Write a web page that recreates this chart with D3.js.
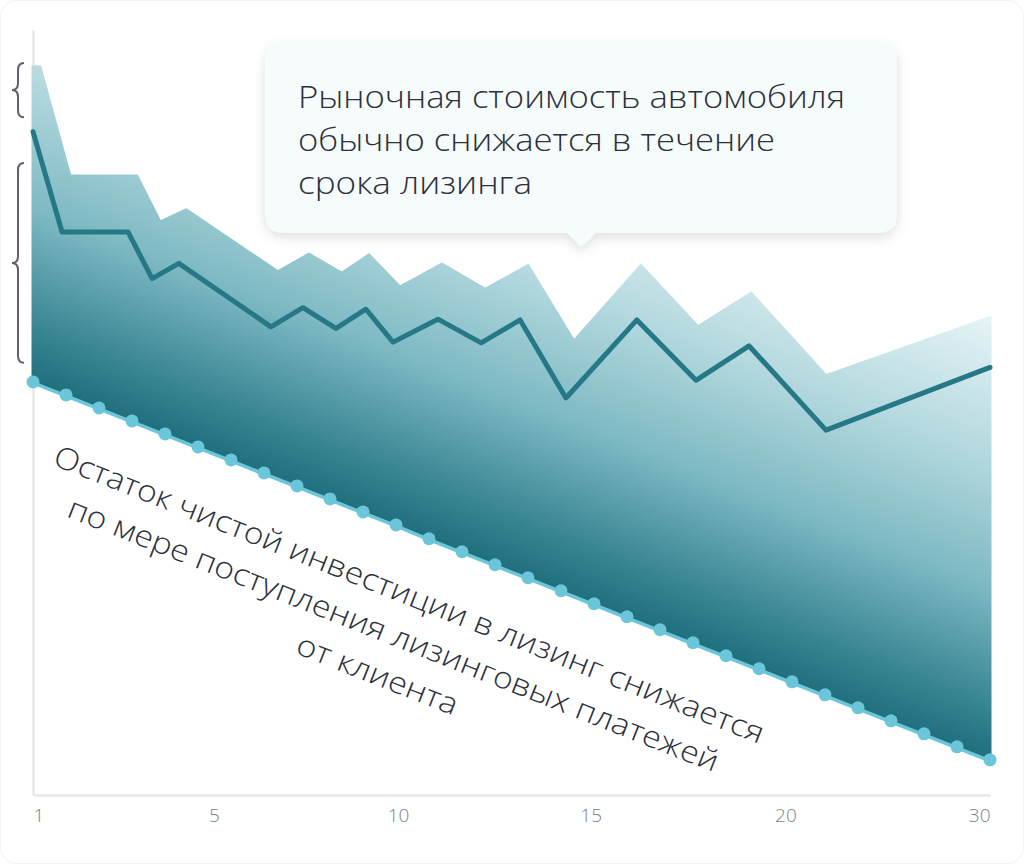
<!DOCTYPE html>
<html>
<head>
<meta charset="utf-8">
<script src="https://cdn.jsdelivr.net/npm/d3@7"></script>
<style>
    body { margin: 0; background: #fff; }
    svg { display: block; font-family: 'Open Sans', 'Noto Sans', sans-serif; }
</style>
</head>
<body>
<div id="chart"></div>
<script>
// periods of the lease (dots along the bottom edge)
const periods = [ 1, 2, 3, 4, 5, 6, 7, 8, 9, 10, 11, 12, 13, 14, 15,
    16, 17, 18, 19, 20, 21, 22, 23, 24, 25, 26, 27, 28, 29, 30 ];

// remaining net investment in the lease
const netInvestment = [ 54.0, 52.3, 50.6, 48.9, 47.2, 45.5, 43.8, 42.1, 40.4, 38.7,
    37.0, 35.3, 33.5, 31.8, 30.1, 28.4, 26.7, 25.0, 23.3, 21.6,
    19.9, 18.2, 16.5, 14.8, 13.1, 11.4, 9.7, 8.0, 6.3, 4.6 ];

// market value of the car (dark line)
const marketX = [ 1, 1.88, 3.88, 4.61, 5.42, 8.21, 9.18, 10.18, 11.09, 11.91,
    13.27, 14.58, 15.76, 17.15, 19.3, 21.09, 22.7, 25.03, 30 ];
const marketValue = [ 86.7, 73.6, 73.6, 67.5, 69.5, 61.2, 63.7, 61.0, 63.5, 59.2,
    62.2, 59.1, 62.1, 51.9, 62.1, 54.2, 58.7, 47.7, 55.9 ];

// upper edge of the shaded band
const upperX = [ 1, 1.21, 2.12, 4.15, 4.85, 5.64, 8.42, 9.36, 10.36, 11.18,
    12.12, 13.39, 14.7, 16.0, 17.39, 19.42, 21.15, 22.76, 25.03, 30 ];
const upperValue = [ 95.2, 95.2, 80.9, 80.9, 74.9, 76.5, 68.4, 70.7, 68.2, 70.6,
    66.4, 69.4, 66.1, 69.2, 59.3, 69.2, 61.2, 65.6, 54.8, 62.4 ];

// x axis labels and where they sit (in periods)
const tickLabels = [ '1', '5', '10', '15', '20', '30' ];
const tickAt = [ 1, 6.48, 12.06, 17.9, 23.8, 30 ];

// braces on the left (value ranges)
const braceFrom = [ 95.7, 82.6 ];
const braceTo = [ 88.6, 56.5 ];

const calloutLines = [ 'Рыночная стоимость автомобиля', 'обычно снижается в течение', 'срока лизинга' ];
const diagLines = [ 'Остаток чистой инвестиции в лизинг снижается', 'по мере поступления лизинговых платежей', 'от клиента' ];

const W = 1024, H = 864;

const svg = d3.select( '#chart' ).append( 'svg' ).attr( 'width', W ).attr( 'height', H );

svg.append( 'rect' )
    .attr( 'x', 0.5 ).attr( 'y', 0.5 ).attr( 'width', W - 1 ).attr( 'height', H - 1 )
    .attr( 'rx', 16 ).attr( 'fill', '#fff' ).attr( 'stroke', '#f3f3f3' );

const x = d3.scaleLinear().domain( [ 1, 30 ] ).range( [ 33, 990 ] ),
    y = d3.scaleLinear().domain( [ 0, 100 ] ).range( [ 795, 30 ] );

// gradient runs perpendicular to the falling bottom edge
const bx0 = x( 1 ), by0 = y( netInvestment[ 0 ] ),
    bx1 = x( 30 ), by1 = y( netInvestment[ netInvestment.length - 1 ] );
const ang = Math.atan2( by1 - by0, bx1 - bx0 );
const mx = ( bx0 + bx1 ) / 2, my = ( by0 + by1 ) / 2, gl = 420;

const defs = svg.append( 'defs' );
const grad = defs.append( 'linearGradient' )
    .attr( 'id', 'bandGrad' )
    .attr( 'gradientUnits', 'userSpaceOnUse' )
    .attr( 'x1', mx ).attr( 'y1', my )
    .attr( 'x2', mx + gl * Math.sin( ang ) ).attr( 'y2', my - gl * Math.cos( ang ) );
[ [ 0, '#206f7d' ], [ 0.14, '#3d8996' ], [ 0.38, '#7db9c3' ], [ 0.66, '#b2d8de' ], [ 1, '#e9f5f7' ] ]
    .forEach( s => grad.append( 'stop' ).attr( 'offset', s[ 0 ] ).attr( 'stop-color', s[ 1 ] ) );

const shadow = defs.append( 'filter' ).attr( 'id', 'shadow' )
    .attr( 'x', '-10%' ).attr( 'y', '-20%' ).attr( 'width', '120%' ).attr( 'height', '150%' );
shadow.append( 'feDropShadow' )
    .attr( 'dx', 0 ).attr( 'dy', 4 ).attr( 'stdDeviation', 6 )
    .attr( 'flood-color', '#000' ).attr( 'flood-opacity', 0.13 );

// axes
const xAxis = svg.append( 'g' )
    .attr( 'transform', 'translate(0,' + y( 0 ) + ')' )
    .call( d3.axisBottom( x ).tickValues( tickAt ).tickFormat( ( d, i ) => tickLabels[ i ] ).tickSize( 0 ).tickPadding( 14 ) );
xAxis.select( '.domain' ).attr( 'stroke', '#e7e7e7' ).attr( 'stroke-width', 2.5 );
xAxis.selectAll( 'text' )
    .attr( 'fill', '#7c808a' ).attr( 'font-size', 19 ).attr( 'font-family', "'Open Sans', sans-serif" ).attr( 'font-weight', 300 )
    .attr( 'text-anchor', ( d, i ) => i == 0 ? 'start' : i == tickAt.length - 1 ? 'end' : 'middle' );

const yAxis = svg.append( 'g' )
    .attr( 'transform', 'translate(' + x( 1 ) + ',0)' )
    .call( d3.axisLeft( y ).tickValues( [] ).tickSizeOuter( 0 ) );
yAxis.select( '.domain' ).attr( 'stroke', '#e7e7e7' ).attr( 'stroke-width', 2.5 );

// shaded band: upper edge, then bottom edge back
const bandPts = upperX.map( ( d, i ) => [ x( d ), y( upperValue[ i ] ) ] )
    .concat( periods.map( ( d, i ) => [ x( d ), y( netInvestment[ i ] ) ] ).reverse() );

svg.append( 'path' )
    .attr( 'd', d3.line()( bandPts ) + 'Z' )
    .attr( 'fill', 'url(#bandGrad)' )
    .attr( 'stroke', 'url(#bandGrad)' )
    .attr( 'stroke-width', 3 )
    .attr( 'stroke-linejoin', 'round' );

// market value line
svg.append( 'path' )
    .datum( marketX.map( ( d, i ) => [ d, marketValue[ i ] ] ) )
    .attr( 'd', d3.line().x( d => x( d[ 0 ] ) ).y( d => y( d[ 1 ] ) ) )
    .attr( 'fill', 'none' )
    .attr( 'stroke', '#277887' )
    .attr( 'stroke-width', 5 )
    .attr( 'stroke-linejoin', 'round' )
    .attr( 'stroke-linecap', 'round' );

// net investment line with dots
svg.append( 'path' )
    .datum( periods.map( ( d, i ) => [ d, netInvestment[ i ] ] ) )
    .attr( 'd', d3.line().x( d => x( d[ 0 ] ) ).y( d => y( d[ 1 ] ) + 1 ) )
    .attr( 'fill', 'none' )
    .attr( 'stroke', '#6cc6da' )
    .attr( 'stroke-width', 3.5 );

svg.append( 'g' ).selectAll( 'circle' )
    .data( periods )
    .enter().append( 'circle' )
    .attr( 'cx', d => x( d ) )
    .attr( 'cy', ( d, i ) => y( netInvestment[ i ] ) )
    .attr( 'r', 6.5 )
    .attr( 'fill', '#6cc6da' );

// braces
const brace = ( bx, y1, y2, w ) => {
    const r = 7, mid = ( y1 + y2 ) / 2, c = bx + w / 2;
    return `M${bx + w},${y1} Q${c},${y1} ${c},${y1 + r} L${c},${mid - r} Q${c},${mid} ${bx},${mid}`
        + ` Q${c},${mid} ${c},${mid + r} L${c},${y2 - r} Q${c},${y2} ${bx + w},${y2}`;
};
braceFrom.forEach( ( d, i ) => {
    svg.append( 'path' )
        .attr( 'd', brace( 12, y( d ), y( braceTo[ i ] ), 12 ) )
        .attr( 'fill', 'none' )
        .attr( 'stroke', '#5d626d' )
        .attr( 'stroke-width', 2 );
} );

// text along the falling edge
const diag = svg.append( 'g' )
    .attr( 'transform', `translate(${bx0},${by0}) rotate(${ang * 180 / Math.PI})` );
const diagWidths = [ 761, 697, 171 ];
diagLines.forEach( ( t, i ) => {
    diag.append( 'text' )
        .attr( 'x', 428 ).attr( 'y', 70 + i * 43 )
        .attr( 'text-anchor', 'middle' )
        .attr( 'font-size', 30 )
        .attr( 'font-weight', 300 )
        .attr( 'fill', '#2b303b' )
        .attr( 'textLength', diagWidths[ i ] )
        .attr( 'lengthAdjust', 'spacingAndGlyphs' )
        .text( t );
} );

// callout box
const cb = { x: 265, y: 43, w: 632, h: 190 };
const callout = svg.append( 'g' ).attr( 'filter', 'url(#shadow)' );
callout.append( 'path' )
    .attr( 'd', `M${cb.x + 20},${cb.y} H${cb.x + cb.w - 20} Q${cb.x + cb.w},${cb.y} ${cb.x + cb.w},${cb.y + 20}`
        + ` V${cb.y + cb.h - 20} Q${cb.x + cb.w},${cb.y + cb.h} ${cb.x + cb.w - 20},${cb.y + cb.h}`
        + ` H596 L581,${cb.y + cb.h + 14} L567,${cb.y + cb.h}`
        + ` H${cb.x + 20} Q${cb.x},${cb.y + cb.h} ${cb.x},${cb.y + cb.h - 20}`
        + ` V${cb.y + 20} Q${cb.x},${cb.y} ${cb.x + 20},${cb.y} Z` )
    .attr( 'fill', '#f6fbfc' );

const calloutWidths = [ 547, 477, 234 ];
calloutLines.forEach( ( t, i ) => {
    svg.append( 'text' )
        .attr( 'x', 298 ).attr( 'y', 108 + i * 43 )
        .attr( 'font-size', 31 )
        .attr( 'font-weight', 300 )
        .attr( 'fill', '#2b303b' )
        .attr( 'textLength', calloutWidths[ i ] )
        .attr( 'lengthAdjust', 'spacingAndGlyphs' )
        .text( t );
} );
</script>
</body>
</html>
